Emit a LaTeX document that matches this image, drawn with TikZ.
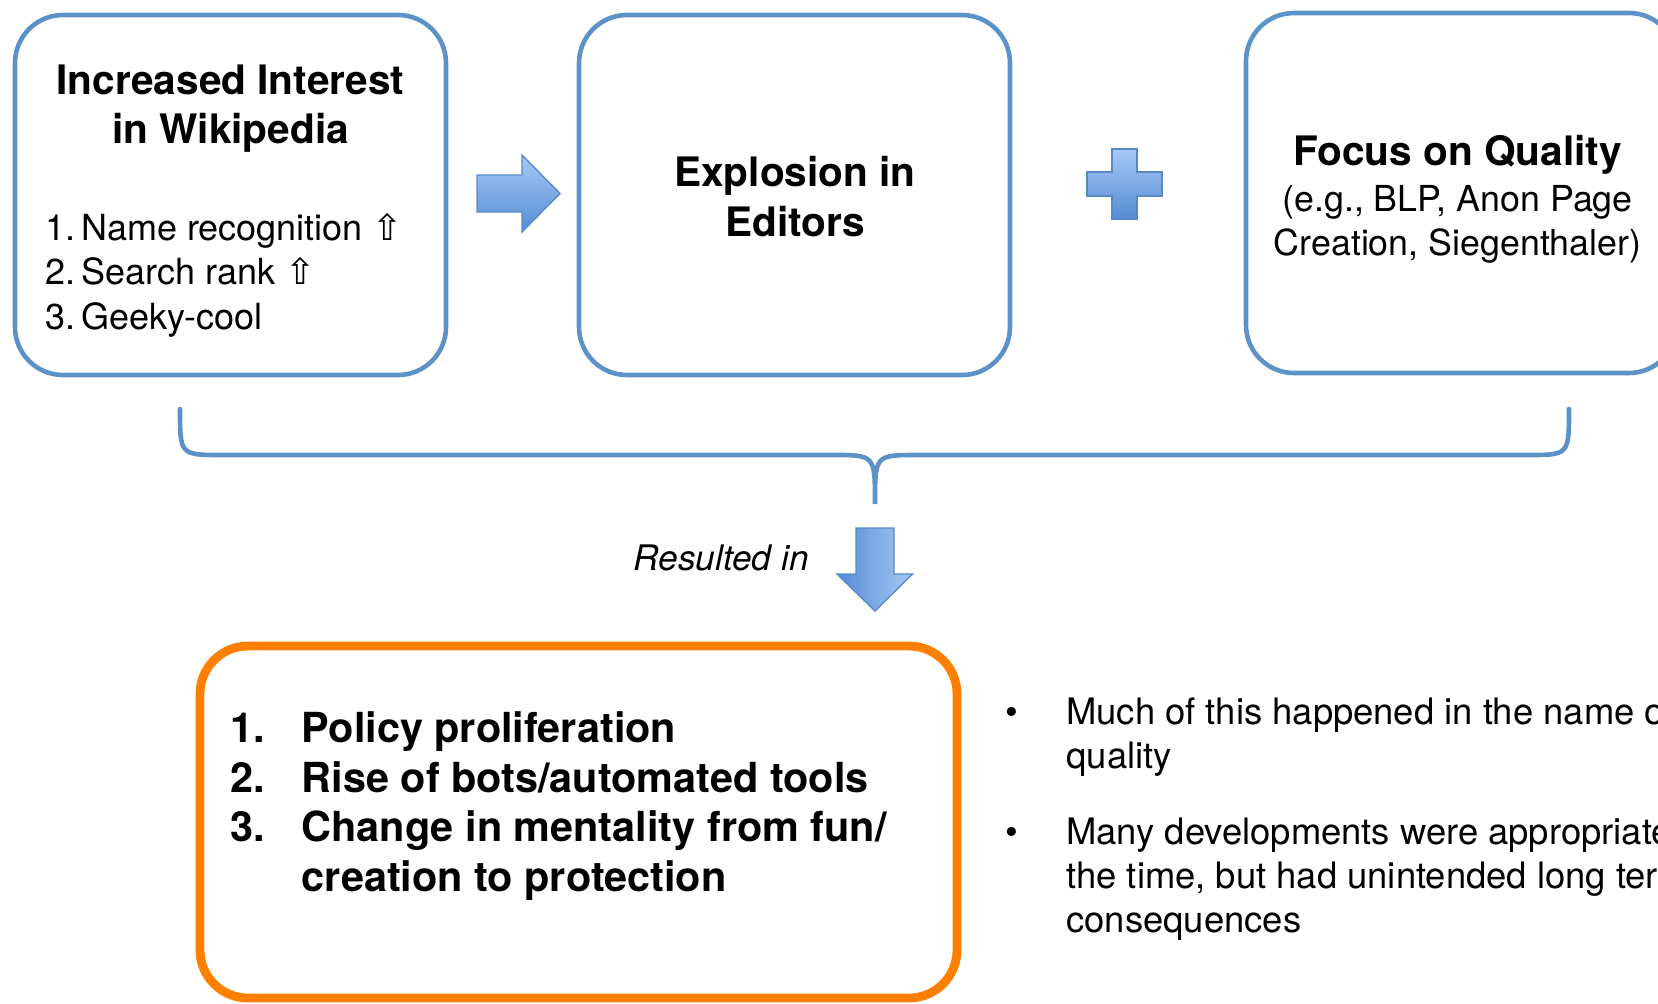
\documentclass[tikz,border=0pt]{standalone}
\usepackage{fontspec}
\setmainfont{TeX Gyre Heros}
\newfontfamily\symfont{DejaVu Sans}
\usetikzlibrary{calc}
\usepackage{xcolor}

\definecolor{boxblue}{RGB}{93,146,200}
\definecolor{arrowlight}{RGB}{166,201,245}
\definecolor{arrowdark}{RGB}{84,140,212}
\definecolor{arrowedge}{RGB}{88,138,202}
\definecolor{boxorange}{RGB}{255,128,0}

\tikzset{
  bluebox/.style={draw=boxblue, line width=2.3pt, rounded corners=24pt,
    minimum width=215.5pt, minimum height=180pt},
  orangebox/.style={draw=boxorange, line width=4.4pt, rounded corners=24pt,
    minimum width=378.5pt, minimum height=176pt},
  fatarrow/.style={draw=arrowedge, line width=0.7pt, line join=miter},
  brace/.style={draw=boxblue, line width=2.3pt, line cap=round},
  headtext/.style={inner sep=0pt, font=\bfseries\fontsize{20.3}{24.85}\selectfont},
  subtext/.style={inner sep=0pt, font=\fontsize{17.9}{22.25}\selectfont},
  listtext/.style={inner sep=0pt, font=\fontsize{18}{22.45}\selectfont},
  outcometext/.style={inner sep=0pt, font=\bfseries\fontsize{20.7}{24.85}\selectfont},
  notetext/.style={inner sep=0pt, font=\fontsize{18.2}{21.9}\selectfont},
  labeltext/.style={inner sep=0pt, font=\itshape\fontsize{17.6}{21}\selectfont}
}

\begin{document}
\begin{tikzpicture}[x=0.5pt, y=-0.5pt]

      \useasboundingbox (0,0) rectangle (1658,1003);
      \clip (0,0) rectangle (1658,1003);

      % Boxes
      \foreach \n/\x/\y in {box1/230.5/195, box2/794.5/195, box3/1461.5/193}
      {
        \node[bluebox] (\n) at (\x,\y) {};
      }
      \node[orangebox] (result) at (578.5,822) {};

      % Box texts
      \node[headtext, anchor=base] (interest) at (230.5,94)
        {\begin{tabular}[t]{@{}c@{}}Increased Interest\\in Wikipedia\end{tabular}};
      \node[listtext, anchor=base west] (reasons) at (45.5,240)
        {\begin{tabular}[t]{@{}l@{}}1.\hspace{0.15em}Name recognition {\symfont ⇧}\\2.\hspace{0.15em}Search rank {\symfont ⇧}\\3.\hspace{0.15em}Geeky-cool\end{tabular}};
      \node[headtext, anchor=base] (editors) at (795,186.5)
        {\begin{tabular}[t]{@{}c@{}}Explosion in\\Editors\end{tabular}};
      \node[subtext, anchor=base] (quality) at (1457.6,165)
        {\begin{tabular}[t]{@{}c@{}}{\bfseries\fontsize{20.3}{24.85}\selectfont Focus on Quality}\\[0.8pt](e.g., BLP, Anon Page\\Creation, Siegenthaler)\end{tabular}};

      % Arrows and plus
      \shade[fatarrow, top color=arrowlight, bottom color=arrowdark]
        (477,175) -- (522,175) -- (522,155) -- (560,193.5) -- (522,232) -- (522,212) -- (477,212) -- cycle;
      \shade[fatarrow, top color=arrowlight, bottom color=arrowdark]
        (1112,149) -- (1137,149) -- (1137,172) -- (1162,172) -- (1162,196) -- (1137,196)
        -- (1137,219) -- (1112,219) -- (1112,196) -- (1087,196) -- (1087,172) -- (1112,172) -- cycle;

      % Brace
      \coordinate (bl) at (180,409);
      \coordinate (tip) at (875,504);
      \coordinate (br) at (1569,409);
      \draw[brace] (bl) .. controls (180,455) .. (222,455) -- (833,455)
        .. controls (875,455) .. (tip) .. controls (875,455) .. (917,455)
        -- (1527,455) .. controls (1569,455) .. (br);

      % Down arrow
      \shade[fatarrow, left color=arrowdark, right color=arrowlight]
        (856,528) -- (894,528) -- (894,574) -- (912.5,574) -- (875,611) -- (837,574) -- (856,574) -- cycle;
      \node[labeltext, anchor=base east] (resulted) at (809,570.8) {Resulted in};

      % Outcomes
      \node[outcometext, anchor=base west] (outcomes) at (230.5,742.3)
        {\begin{tabular}[t]{@{}p{35.45pt}@{}l@{}}1.&Policy proliferation\\2.&Rise of bots/automated tools\\3.&Change in mentality from fun/\\&creation to protection\end{tabular}};

      % Notes
      \node[notetext, anchor=base west] (notes) at (1005,724.6)
        {\begin{tabular}[t]{@{}p{30.5pt}@{}l@{}}\textbullet&Much of this happened in the name of\\&quality\\[16.2pt]\textbullet&Many developments were appropriate at\\&the time, but had unintended long term\\&consequences\end{tabular}};

  \end{tikzpicture}
\end{document}
